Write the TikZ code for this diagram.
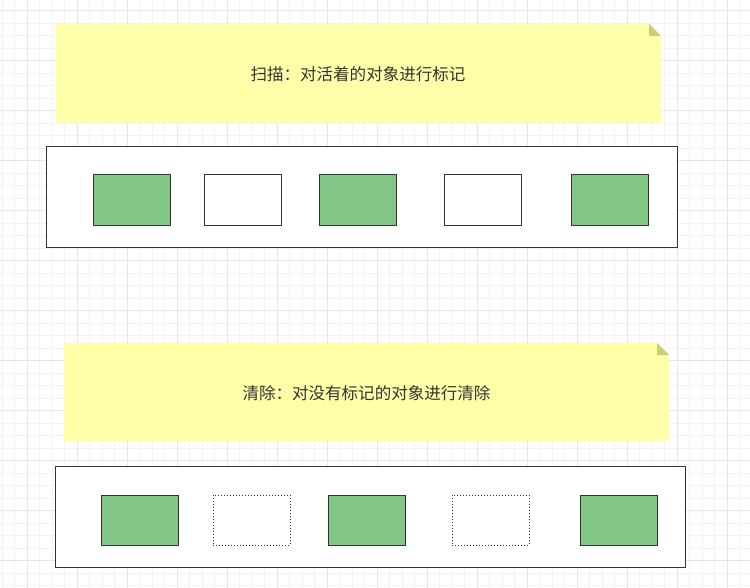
\documentclass[tikz,border=0pt]{standalone}
\usepackage{fontspec}
\newfontfamily\cjk{Noto Sans CJK SC}
\usepackage{tikz}
\usetikzlibrary{positioning}
\definecolor{notefill}{RGB}{255,255,170}
\definecolor{foldfill}{RGB}{205,205,120}
\definecolor{livegreen}{RGB}{130,199,133}
\definecolor{edgegray}{RGB}{51,51,51}
\definecolor{textgray}{RGB}{51,51,51}
\definecolor{gridminor}{RGB}{243,243,243}
\definecolor{gridmajor}{RGB}{230,230,230}
\newcommand{\pxl}{0.75pt}
\tikzset{style={font=\cjk\fontsize{12.4}{15}\selectfont}}

\begin{document}
\begin{tikzpicture}[x=0.75pt,y=-0.75pt,
    minor/.style={draw=gridminor,line width=1*\pxl},
    major/.style={draw=gridmajor,line width=1*\pxl},
    heap/.style={draw=edgegray,fill=white,line width=1*\pxl,inner sep=0pt,
        minimum width=631*\pxl,minimum height=101*\pxl},
    cell/.style={draw=edgegray,line width=1*\pxl,inner sep=0pt,
        minimum width=77*\pxl,minimum height=51*\pxl},
    livecell/.style={cell,fill=livegreen},
    deadcell/.style={cell,fill=white},
    freedcell/.style={cell,fill=white,dash pattern=on 1*\pxl off 2*\pxl},
    notetext/.style={text=textgray,inner sep=0pt}]
  \useasboundingbox (0,0) rectangle (750,588);
  % grid
  \fill[white] (0,0) rectangle (750,588);
  \foreach \x in {2,14.5,...,750} \draw[minor] (\x,0) -- (\x,588);
  \foreach \y in {10.7,23.2,...,588} \draw[minor] (0,\y) -- (750,\y);
  \foreach \x in {27,77,...,750} \draw[major] (\x,0) -- (\x,588);
  \foreach \y in {10.7,60.7,...,588} \draw[major] (0,\y) -- (750,\y);

  % mark phase
  \fill[notefill] (56,24) -- (649,24) -- (661,36) -- (661,123) -- (56,123) -- cycle;
  \fill[foldfill] (649,24) -- (649,36) -- (661,36) -- cycle;
  \node[notetext] (marknote) at (358,74) {扫描：对活着的对象进行标记};
  \node[heap] (markheap) at (361.5,197.5) {};
  \foreach \x/\k [count=\n] in {131.5/livecell,242.5/deadcell,358/livecell,
      482.5/deadcell,609.5/livecell}
    \node[\k] (mark\n) at (\x,200.5) {};

  % sweep phase
  \fill[notefill] (64,343) -- (657,343) -- (669,355) -- (669,441) -- (64,441) -- cycle;
  \fill[foldfill] (657,343) -- (657,355) -- (669,355) -- cycle;
  \node[notetext] (sweepnote) at (366.5,393) {清除：对没有标记的对象进行清除};
  \node[heap,minimum width=630*\pxl] (sweepheap) at (370,516.5) {};
  \foreach \x/\k [count=\n] in {139.5/livecell,251.5/freedcell,366.5/livecell,
      490.5/freedcell,618.5/livecell}
    \node[\k,minimum height=50*\pxl] (sweep\n) at (\x,520) {};
\end{tikzpicture}
\end{document}
